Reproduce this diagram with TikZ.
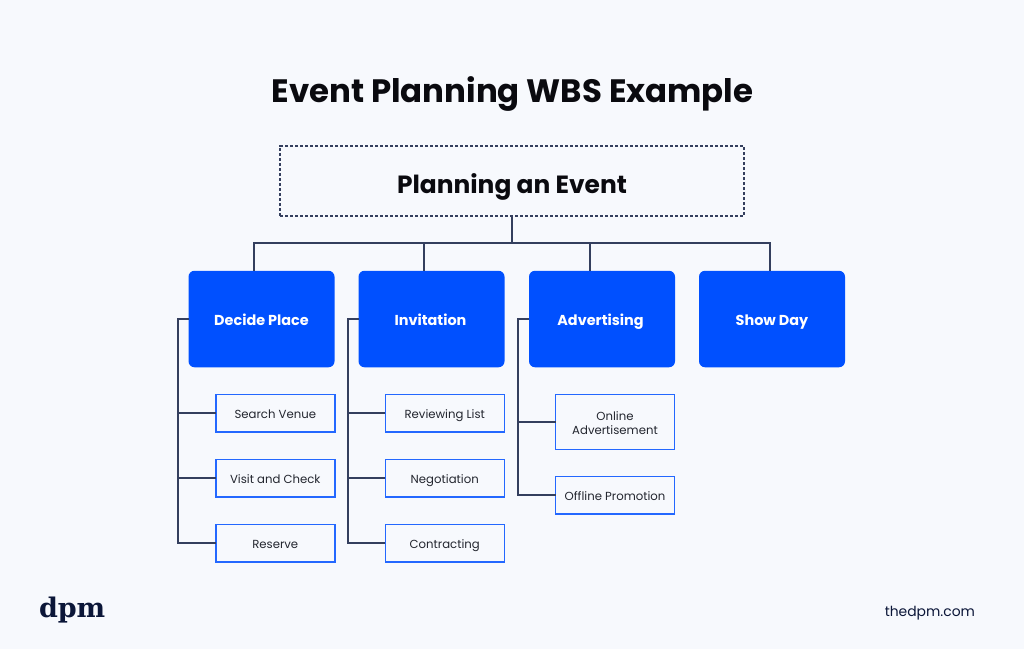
\documentclass[tikz,border=0pt]{standalone}
\usepackage{fontspec}
\setmainfont{Poppins}
\newfontfamily\logofont{DejaVu Serif}
\definecolor{bgc}{HTML}{F7F9FD}
\definecolor{bluec}{HTML}{0050FF}
\definecolor{subc}{HTML}{2468FF}
\definecolor{linec}{HTML}{343F5E}
\definecolor{inkc}{HTML}{0A0A0F}
\definecolor{subtext}{HTML}{23262F}
\definecolor{logoc}{HTML}{0B1638}
\tikzset{
  every node/.style={inner sep=0pt,outer sep=0pt},
  rootbox/.style={draw=linec,line width=1.2pt,dash pattern=on 3.2pt off 1.8pt,minimum width=464pt,minimum height=70pt,font=\fontsize{24.9}{28}\selectfont\bfseries,text=inkc,text height=24.6pt,text depth=0pt,anchor=center},
  mainbox/.style={fill=bluec,rounded corners=6pt,minimum width=146pt,minimum height=96.5pt,font=\fontsize{14.4}{16}\selectfont\bfseries,text=white,text height=12pt,text depth=0pt,anchor=center},
  subbox/.style={draw=subc,fill=bgc,line width=1.5pt,minimum width=119pt,font=\fontsize{11.7}{14.3}\selectfont,text=subtext,align=center,anchor=center},
  oneline/.style={subbox,minimum height=37.5pt,text height=10pt,text depth=0pt},
  conn/.style={draw=linec,line width=1.5pt},
}
\begin{document}
\begin{tikzpicture}[x=1pt,y=-1pt]
\fill[bgc] (0,0) rectangle (1024,649);
\useasboundingbox (0,0) rectangle (1024,649);
\node[font=\fontsize{32.4}{38}\selectfont\bfseries,text=inkc] (title) at (512.5,93.5) {Event Planning WBS Example};
\node[rootbox] (root) at (512,181) {Planning an Event};
\node[mainbox] (decide) at (261.5,319) {Decide Place};
\node[mainbox] (invite) at (431.5,319) {\hspace*{-2pt}Invitation};
\node[mainbox] (advert) at (602,319) {\hspace*{-3pt}Advertising};
\node[mainbox] (show) at (772,319) {Show Day};
\node[oneline] (s1) at (275.25,413) {Search Venue};
\node[oneline] (s2) at (275.25,478) {Visit and Check};
\node[oneline] (s3) at (275.25,543) {Reserve};
\node[oneline] (i1) at (444.75,413) {Reviewing List};
\node[oneline] (i2) at (444.75,478) {Negotiation};
\node[oneline] (i3) at (444.75,543) {Contracting};
\node[subbox,minimum height=55pt,text height=25pt] (a1) at (615,422) {Online\\Advertisement};
\node[oneline] (a2) at (615,495) {Offline Promotion};
\coordinate (bus) at (512,243);
\coordinate (busl) at (254,243);
\coordinate (bus2) at (424,243);
\coordinate (bus3) at (590,243);
\coordinate (busr) at (770,243);
\coordinate (t1) at (178,319);
\coordinate (t2) at (348,319);
\coordinate (t3) at (518,319);
\draw[conn] (root.south) -- (bus);
\draw[conn] (busl |- decide.north) -- (busl) -- (busr) -- (busr |- show.north);
\draw[conn] (bus2) -- (bus2 |- invite.north);
\draw[conn] (bus3) -- (bus3 |- advert.north);
\draw[conn] (decide.west) -- (t1) -- (t1 |- s3.west) -- (s3.west);
\draw[conn] (t1 |- s1.west) -- (s1.west);
\draw[conn] (t1 |- s2.west) -- (s2.west);
\draw[conn] (invite.west) -- (t2) -- (t2 |- i3.west) -- (i3.west);
\draw[conn] (t2 |- i1.west) -- (i1.west);
\draw[conn] (t2 |- i2.west) -- (i2.west);
\draw[conn] (advert.west) -- (t3) -- (t3 |- a2.west) -- (a2.west);
\draw[conn] (t3 |- a1.west) -- (a1.west);
\node[font=\logofont\fontsize{27}{30}\selectfont\bfseries,text=logoc,anchor=base west] (logo) at (39,617) {dpm};
\node[font=\fontsize{13.9}{16}\selectfont\mdseries,text=logoc,anchor=base east] (site) at (975,616) {thedpm.com};
\end{tikzpicture}
\end{document}
